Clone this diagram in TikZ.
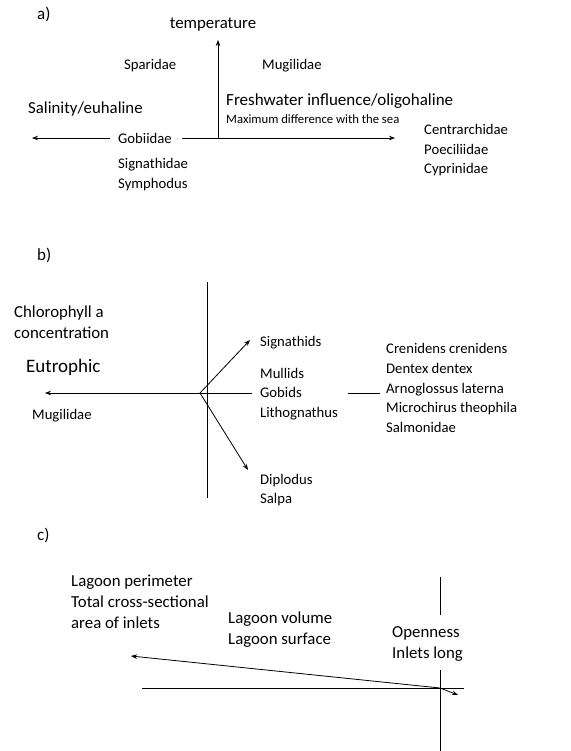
\documentclass[tikz,border=0pt]{standalone}
\usepackage{fontspec}
\setmainfont{Carlito}
\usetikzlibrary{arrows.meta, positioning}
\tikzset{
  taxon/.style={anchor=west, inner sep=0pt, align=left,
                font=\fontsize{14.7}{19.6}\selectfont},
  axislabel/.style={anchor=west, inner sep=0pt, align=left,
                font=\fontsize{16.8}{21}\selectfont},
  panel/.style={anchor=west, inner sep=0pt, font=\fontsize{17}{18}\selectfont},
  arrow/.style={-{Stealth[length=6pt,width=4.5pt]}, line width=0.8pt},
  axis/.style={line width=0.8pt},
}
\begin{document}
\begin{tikzpicture}[x=1pt, y=-1pt]
  \useasboundingbox (0,0) rectangle (570,751);

  % a)
  \node[panel] (pa) at (37,14) {a)};
  \node[axislabel, anchor=center] (temp) at (213,25) {temperature};
  \coordinate (oa) at (218,138);
  \coordinate (ta) at (218,40);
  \coordinate (la) at (32,138);
  \coordinate (ra) at (395,138);
  \node[taxon] (spar) at (124,66) {Sparidae};
  \node[taxon] (mugA) at (262,66) {Mugilidae};
  \node[axislabel, font=\fontsize{17}{18}\selectfont] (fresh) at (226,101) {Freshwater influence/oligohaline};
  \node[anchor=west, inner sep=0pt, font=\fontsize{12.7}{14}\selectfont] (maxd) at (226,119) {Maximum difference with the sea};
  \node[axislabel] (sal) at (28,109) {Salinity/euhaline};
  \node[taxon] (gob) at (118,138) {Gobiidae};
  \node[taxon, anchor=north west] (sign) at (118,158) {Signathidae\\Symphodus};
  \node[taxon, anchor=north west] (cent) at (424,124) {Centrarchidae\\Poeciliidae\\Cyprinidae};

  \draw[arrow] (oa) -- (ta);
  \draw[arrow] ([xshift=-8pt]gob.west) -- (la);
  \draw[arrow] ([xshift=10pt]gob.east) -- (ra);

  % b)
  \node[panel] (pb) at (37,255) {b)};
  \coordinate (vbt) at (207,282);
  \coordinate (vbb) at (207,498);
  \coordinate (ob) at (200,393);
  \coordinate (lb) at (45,393);
  \coordinate (ub) at (250,340);
  \coordinate (db) at (248,470);
  \node[axislabel] (chl) at (14,322) {Chlorophyll a\\concentration};
  \node[axislabel, font=\fontsize{19}{21}\selectfont] (eut) at (26,367) {Eutrophic};
  \node[taxon] (mugB) at (32,416) {Mugilidae};
  \node[taxon] (signb) at (260,343) {Signathids};
  \node[taxon] (mull) at (260,394) {Mullids\\Gobids\\Lithognathus};
  \node[taxon] (cren) at (386,388) {Crenidens crenidens\\Dentex dentex\\Arnoglossus laterna\\Microchirus theophila\\Salmonidae};
  \node[taxon] (dipl) at (260,490) {Diplodus\\Salpa};

  \draw[axis] (vbt) -- (vbb);
  \draw[arrow] (ob) -- (lb);
  \draw[axis] (ob) -- ([xshift=-8pt]mull.west |- ob);
  \draw[axis] ([xshift=10pt]mull.east |- ob) -- ([xshift=-6pt]cren.west |- ob);
  \draw[arrow] (ob) -- (ub);
  \draw[arrow] (ob) -- (db);

  % c)
  \node[panel] (pc) at (37,535) {c)};
  \node[axislabel] (peri) at (71,602) {Lagoon perimeter\\Total cross-sectional\\area of inlets};
  \node[axislabel] (vol) at (228,630) {Lagoon volume\\Lagoon surface};
  \node[axislabel] (open) at (392,644) {Openness\\Inlets long};
  \coordinate (oc) at (440,688);
  \coordinate (vct) at (440,577);
  \coordinate (vcm) at (440,615);
  \coordinate (vcn) at (440,670);
  \coordinate (vcb) at (440,751);
  \coordinate (hcl) at (142,688);
  \coordinate (hcr) at (464,688);
  \coordinate (lc) at (131,656);
  \coordinate (rc) at (458,695);

  \draw[axis] (vct) -- (vcm);
  \draw[axis] (vcn) -- (vcb);
  \draw[axis] (hcl) -- (hcr);
  \draw[arrow] (oc) -- (lc);
  \draw[arrow] (oc) -- (rc);
\end{tikzpicture}
\end{document}
